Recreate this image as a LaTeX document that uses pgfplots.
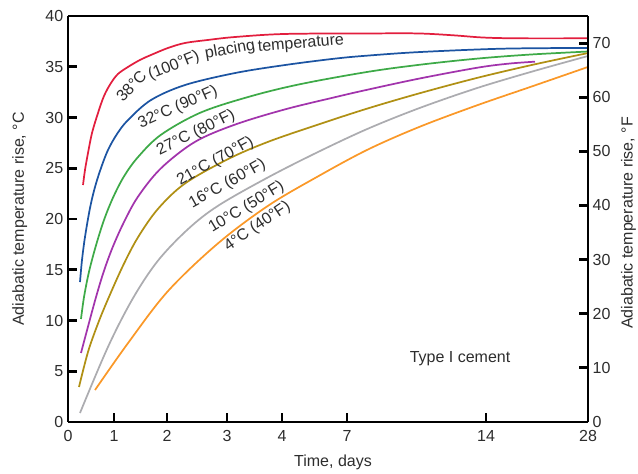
\documentclass[border=0pt]{standalone}
\usepackage{fontspec}
\setmainfont{Liberation Sans}
\usepackage{pgfplots}
\pgfplotsset{compat=1.18}
\definecolor{cred}{RGB}{226,30,62}
\definecolor{cblue}{RGB}{28,84,162}
\definecolor{cgreen}{RGB}{62,170,72}
\definecolor{cpurple}{RGB}{162,52,172}
\definecolor{colive}{RGB}{176,144,20}
\definecolor{cgray}{RGB}{172,172,176}
\definecolor{corange}{RGB}{250,152,40}
\definecolor{ctext}{RGB}{45,45,45}
\begin{document}
\begin{tikzpicture}[font=\fontsize{12}{14}\selectfont, text=ctext]
\pgfplotsset{
  basestyle/.style={
    at={(0pt,0pt)}, anchor=south west,
    scale only axis, width=390pt, height=304.5pt,
    xmin=0, xmax=520,
    tick align=inside,
    major tick length=6.5pt,
    every tick/.append style={line width=2.2pt, black},
    axis line style={line width=2pt, black},
    tick label style={font=\fontsize{12}{14}\selectfont, text=ctext},
    /pgf/number format/assume math mode=true,
  }
}
\begin{axis}[basestyle,
  ymin=0, ymax=40,
  axis x line*=bottom, axis y line*=left,
  xtick={0,46,99,159,214,279,418,520},
  xticklabels={0,1,2,3,4,7,14,28},
  xticklabel style={yshift=-3pt},
  ytick={0,5,...,40},
  every axis plot/.append style={line width=1.3pt, smooth, tension=0.55},
]
% 38 C
\addplot[cred] coordinates {(15,23.35) (17,24.83) (20,26.50) (24,28.47) (30,30.44) (36,32.12) (43,33.40) (50,34.29) (60,34.98) (72,35.67) (83,36.16) (100,36.85) (117,37.34) (140,37.64) (167,37.93) (217,38.23) (300,38.28) (350,38.28) (385,38.10) (415,37.88) (450,37.80) (520,37.80)};
% 32 C
\addplot[cblue] coordinates {(12,13.79) (14,15.96) (17,18.23) (22,21.08) (27,23.15) (33,25.02) (40,26.80) (49,28.37) (60,29.75) (83,31.72) (117,33.20) (167,34.38) (217,35.17) (267,35.80) (300,36.10) (352,36.45) (435,36.78) (520,36.85)};
% 27 C
\addplot[cgreen] coordinates {(13,10.15) (16,12.3) (21,14.8) (28,17.4) (36,19.9) (45,22.1) (56,24.2) (70,26.1) (93,28.3) (133,30.5) (183,32.1) (233,33.3) (300,34.5) (352,35.2) (409,35.8) (462,36.2) (520,36.5)};
% 21 C
\addplot[cpurple] coordinates {(13,6.8) (20,9.4) (28,12.3) (36,14.9) (45,17.3) (56,19.7) (70,22.2) (93,25.0) (127,27.6) (167,29.3) (217,30.8) (267,32.0) (300,32.75) (352,33.85) (409,34.9) (440,35.3) (467,35.5)};
% 16 C
\addplot[colive] coordinates {(11,3.45) (20,6.9) (30,9.7) (40,12.1) (55,15.4) (70,18.2) (90,21.0) (117,23.5) (160,25.9) (200,27.6) (250,29.3) (300,30.9) (352,32.4) (409,33.9) (465,35.2) (520,36.35)};
% 10 C
\addplot[cgray] coordinates {(12,0.89) (40,7.4) (65,12.2) (90,15.9) (120,19.0) (150,21.3) (200,24.1) (250,26.6) (300,28.9) (352,30.95) (409,32.9) (465,34.55) (520,36.06)};
% 4 C
\addplot[corange] coordinates {(27,3.15) (60,7.77) (100,12.9) (150,17.6) (200,21.3) (250,24.2) (300,26.85) (352,29.1) (409,31.2) (465,33.1) (520,34.98)};
\draw[line width=2pt, black] (rel axis cs:0,1) -- (rel axis cs:1,1);
\end{axis}
\begin{axis}[basestyle,
  ymin=0, ymax=75,
  ytick={0,10,...,70},
  axis x line=none,
  axis y line*=right,
]
\end{axis}
% label following the red curve
\node[rotate=47] at (47.5pt,252pt) {38°C};
\node[rotate=22] at (79.5pt,267pt) {(100°F)};
\node[rotate=10] at (121.5pt,279pt) {placing};
\node[rotate=5] at (174.75pt,283pt) {temperature};
% curve labels (pt coordinates from axis origin)
\node[rotate=24] at (82.5pt,235.9pt) {32°C (90°F)};
\node[rotate=26] at (96pt,216.75pt) {27°C (80°F)};
\node[rotate=29] at (110.6pt,195.4pt) {21°C (70°F)};
\node[rotate=29] at (119.6pt,178.5pt) {16°C (60°F)};
\node[rotate=31] at (133.9pt,160.9pt) {10°C (50°F)};
\node[rotate=34] at (142.1pt,146.6pt) {4°C (40°F)};
\node at (294pt,47.25pt) {Type I cement};
% axis labels
\node[rotate=90, anchor=north, inner sep=0pt] at (-42pt,152.25pt) {Adiabatic temperature rise, °C};
\node[rotate=90, anchor=north, inner sep=0pt] at (414.5pt,149.25pt) {Adiabatic temperature rise, °F};
\node at (198.75pt,-30pt) {Time, days};
\pgfresetboundingbox
\path[use as bounding box] (-51pt,-39pt) rectangle (427.5pt,316.5pt);
\end{tikzpicture}
\end{document}
